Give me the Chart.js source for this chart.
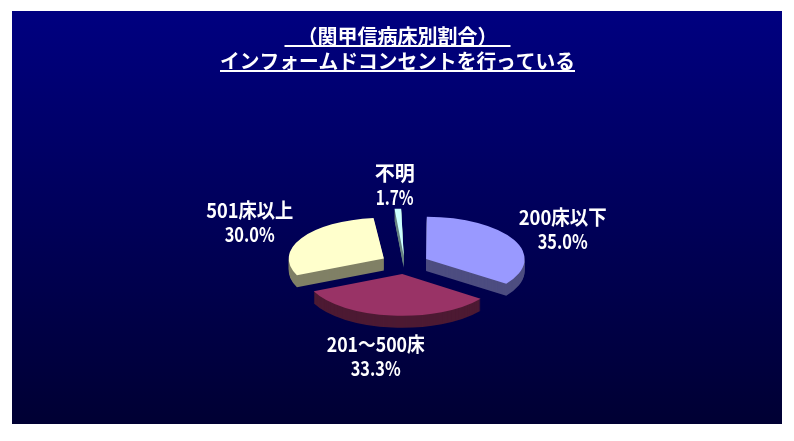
<!DOCTYPE html>
<html>
<head>
<meta charset="utf-8">
<style>
  html, body { margin: 0; padding: 0; background: #fff; }
  canvas { display: block; }
</style>
</head>
<body>
<canvas id="pieChart" width="794" height="441"></canvas>
<script src="https://cdn.jsdelivr.net/npm/chart.js@4"></script>
<script>
const categories = ['200床以下', '201～500床', '501床以上', '不明'];
const shares = [35.0, 33.3, 30.0, 1.7];
const titleLines = ['（関甲信病床別割合）', 'インフォームドコンセントを行っている'];

const topColors = ['#9999ff', '#993366', '#ffffcc', '#ccffff'];
const sideColors = ['#4d4d80', '#4d1a33', '#808066', '#668080'];
const explode = [96, 96, 96, 72];

// label centre relative to the pie centre, first text line
const labelShift = [[158, -46], [-29, 81], [-155, -53], [-10, -90]];
// the reference font is narrower than Noto, squeeze to the same widths
const nameWidths = [88, 98, 87, 40];
const valueWidths = [50, 50, 50, 38];

const FONT = '"Noto Sans CJK JP", sans-serif';
const squash = 0.43;  // tilt of the pie
const depth = 12;

function tilt(ctx, arc, down) {
  ctx.translate(arc.x, arc.y + down);
  ctx.scale(1, squash);
  ctx.translate(-arc.x, -arc.y);
}

const panel = {
  id: 'panel',
  beforeDraw(chart) {
    const ctx = chart.ctx;
    const grad = ctx.createLinearGradient(0, 11, 0, 424);
    grad.addColorStop(0, '#000080');
    grad.addColorStop(1, '#000033');
    ctx.fillStyle = grad;
    ctx.fillRect(12, 11, 770, 413);
  }
};

const pie3d = {
  id: 'pie3d',
  beforeDatasetsDraw(chart) {
    const ctx = chart.ctx;
    const arcs = chart.getDatasetMeta(0).data;
    // stack darker copies of each slice under the top face
    for (let d = depth; d > 0; d--) {
      arcs.forEach((arc, i) => {
        const opts = arc.options;
        arc.options = Object.assign({}, opts, { backgroundColor: sideColors[i] });
        ctx.save();
        tilt(ctx, arc, d);
        arc.draw(ctx);
        ctx.restore();
        arc.options = opts;
      });
    }
    ctx.save();
    tilt(ctx, arcs[0], 0);
  },
  afterDatasetsDraw(chart) {
    chart.ctx.restore();
  }
};

const texts = {
  id: 'texts',
  afterDraw(chart) {
    const ctx = chart.ctx;
    const arc = chart.getDatasetMeta(0).data[0];
    ctx.save();
    ctx.fillStyle = '#fff';
    ctx.strokeStyle = '#fff';
    ctx.textAlign = 'center';
    ctx.textBaseline = 'middle';
    ctx.font = 'bold 20px ' + FONT;

    titleLines.forEach((line, i) => {
      const y = 36 + i * 25;
      const half = i === 0 ? 113 : 177.5;
      ctx.fillText(line, 397.5, y, i === 0 ? 202 : 355);
      ctx.lineWidth = 2;
      ctx.beginPath();
      ctx.moveTo(397.5 - half, y + 10);
      ctx.lineTo(397.5 + half, y + 10);
      ctx.stroke();
    });

    categories.forEach((name, i) => {
      const x = arc.x + labelShift[i][0];
      const y = arc.y + labelShift[i][1];
      ctx.fillText(name, x, y, nameWidths[i]);
      ctx.fillText(shares[i].toFixed(1) + '%', x, y + 24, valueWidths[i]);
    });
    ctx.restore();
  }
};

new Chart(document.getElementById('pieChart'), {
  type: 'pie',
  data: {
    labels: categories,
    datasets: [{
      data: shares,
      backgroundColor: topColors,
      borderWidth: 0,
      offset: explode,
      clip: false
    }]
  },
  options: {
    responsive: false,
    animation: false,
    radius: 94,
    layout: { padding: { left: 15.4, top: 86.4 } },
    plugins: {
      legend: { display: false },
      tooltip: { enabled: false }
    }
  },
  plugins: [panel, pie3d, texts]
});
</script>
</body>
</html>
